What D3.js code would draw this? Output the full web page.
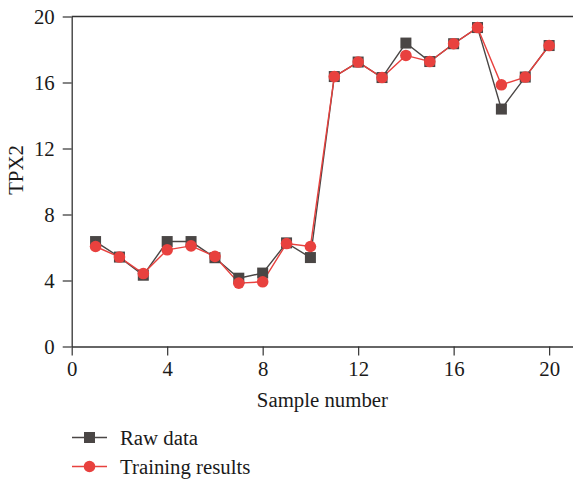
<!DOCTYPE html>
<html><head><meta charset="utf-8">
<script src="https://cdn.jsdelivr.net/npm/d3@7"></script>
<style>body{margin:0;background:#fff}svg{display:block}</style>
</head><body>
<svg id="c" width="573" height="481"></svg>
<script>
const samples = [1,2,3,4,5,6,7,8,9,10,11,12,13,14,15,16,17,18,19,20];
const rawData = [6.36,5.42,4.32,6.36,6.36,5.38,4.14,4.45,6.28,5.39,16.36,17.24,16.30,18.39,17.27,18.35,19.33,14.39,16.33,18.24];
const trainingResults = [6.06,5.42,4.42,5.86,6.10,5.46,3.84,3.92,6.24,6.06,16.36,17.24,16.30,17.64,17.27,18.35,19.33,15.86,16.33,18.24];
const xTicks = [0,4,8,12,16,20];
const yTicks = [0,4,8,12,16,20];
const seriesNames = ["Raw data","Training results"];
const colors = ["#4a4645","#e8413e"];

const svg = d3.select("#c");
const font = "'Liberation Serif', 'DejaVu Serif', serif";
const fs = "20.8px";
const x = d3.scaleLinear().domain([0,21]).range([71.7,573]);
const y = d3.scaleLinear().domain([0,20]).range([346.5,16.5]);

const axisColor = "#333";
svg.append("line").attr("x1",x(0)).attr("x2",573).attr("y1",y(20)).attr("y2",y(20))
  .attr("stroke",axisColor).attr("stroke-width",1.3);

const gx = svg.append("g").attr("transform",`translate(0,${y(0)})`)
  .call(d3.axisBottom(x).tickValues(xTicks).tickSize(9).tickSizeOuter(0).tickPadding(6));
const gy = svg.append("g").attr("transform",`translate(${x(0)},0)`)
  .call(d3.axisLeft(y).tickValues(yTicks).tickSize(9).tickSizeOuter(0).tickPadding(8));
[gx,gy].forEach(g=>{
  g.select(".domain").attr("stroke",axisColor).attr("stroke-width",1.3);
  g.selectAll(".tick line").attr("stroke",axisColor).attr("stroke-width",1.2);
  g.selectAll(".tick text").attr("fill","#1a1a1a").style("font-family",font).style("font-size",fs);
});

svg.append("text").attr("x",(x(0)+x(20))/2+12).attr("y",407).attr("text-anchor","middle")
  .style("font-family",font).style("font-size",fs).attr("fill","#1a1a1a").text("Sample number");
svg.append("text").attr("transform","translate(23,170) rotate(-90)").attr("text-anchor","middle")
  .style("font-family",font).style("font-size",fs).attr("fill","#1a1a1a").text("TPX2");

const line = d3.line().x((d,i)=>x(samples[i])).y(d=>y(d));
const series = [rawData, trainingResults];
series.forEach((vals,si)=>{
  svg.append("path").datum(vals).attr("d",line).attr("fill","none")
    .attr("stroke",colors[si]).attr("stroke-width",1.4);
});
svg.append("g").selectAll("rect").data(rawData).join("rect")
  .attr("x",(d,i)=>x(samples[i])-5.5).attr("y",d=>y(d)-5.5).attr("width",11).attr("height",11)
  .attr("fill",colors[0]);
svg.append("g").selectAll("circle").data(trainingResults).join("circle")
  .attr("cx",(d,i)=>x(samples[i])).attr("cy",d=>y(d)).attr("r",5.8)
  .attr("fill",colors[1]);

const ly = [437.5, 466.5];
seriesNames.forEach((n,i)=>{
  const g = svg.append("g");
  g.append("line").attr("x1",72).attr("x2",107).attr("y1",ly[i]).attr("y2",ly[i])
    .attr("stroke",colors[i]).attr("stroke-width",1.4);
  if(i===0) g.append("rect").attr("x",89.5-5.5).attr("y",ly[i]-5.5).attr("width",11).attr("height",11).attr("fill",colors[i]);
  else g.append("circle").attr("cx",89.5).attr("cy",ly[i]).attr("r",5.8).attr("fill",colors[i]);
  g.append("text").attr("x",120).attr("y",ly[i]+7).style("font-family",font).style("font-size",fs)
    .attr("fill","#1a1a1a").text(n);
});
</script>
</body></html>
